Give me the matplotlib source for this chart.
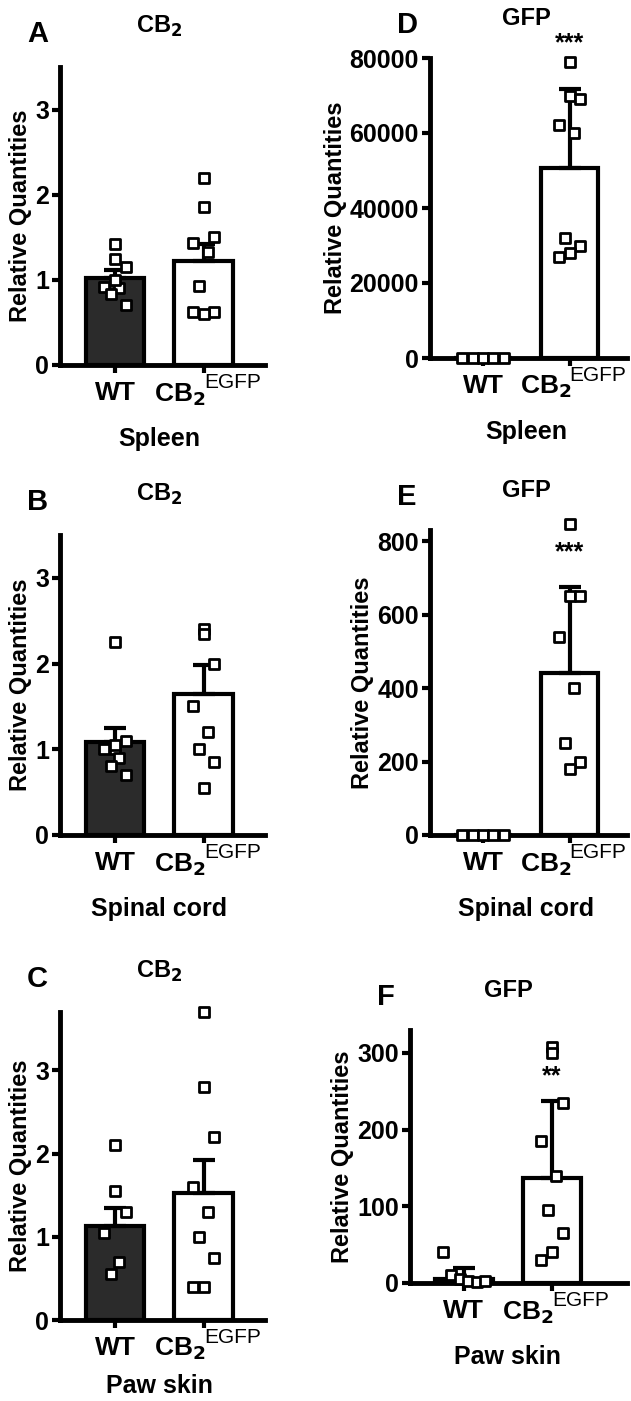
import numpy as np
import matplotlib
matplotlib.use("Agg")
import matplotlib.pyplot as plt

plt.rcParams['font.family'] = 'Liberation Sans'
plt.rcParams['font.weight'] = 'bold'

groups = ["WT", "CB2EGFP"]
A_wt = [1.42, 1.25, 1.15, 0.92, 0.90, 0.83, 0.70, 1.00]
A_ko = [2.20, 1.85, 1.50, 1.43, 1.33, 0.93, 0.62, 0.60, 0.62]
A_mean = [1.02, 1.22]; A_err = [0.09, 0.20]
B_wt = [2.25, 1.00, 1.10, 1.00, 0.90, 0.80, 0.70, 1.05]
B_ko = [2.40, 2.35, 2.00, 1.50, 1.20, 1.00, 0.85, 0.55]
B_mean = [1.08, 1.65]; B_err = [0.17, 0.33]
C_wt = [2.10, 1.55, 1.30, 1.05, 0.70, 0.55]
C_ko = [3.70, 2.80, 2.20, 1.60, 1.30, 1.00, 0.75, 0.40, 0.40]
C_mean = [1.13, 1.53]; C_err = [0.22, 0.39]
D_wt = [0, 0, 0, 0, 0]
D_ko = [79000, 70000, 69000, 62000, 60000, 32000, 30000, 28000, 27000]
D_mean = [0, 50600]; D_err = [0, 21200]
E_wt = [0, 0, 0, 0, 0]
E_ko = [845, 650, 650, 540, 400, 250, 200, 180]
E_mean = [0, 440]; E_err = [0, 235]
F_wt = [40, 10, 5, 2, 1, 3]
F_ko = [308, 300, 235, 185, 140, 95, 65, 40, 30]
F_mean = [5, 137]; F_err = [15, 100]

W, H = 631, 1401
fig = plt.figure(figsize=(W/100, H/100), dpi=100)

def jitter(n):
    offs = [0, 0.0, 0.12, -0.12, 0.05, -0.05, 0.12, 0.0, -0.12]
    return np.array(offs[:n])

def jitter_flat(n):
    return np.linspace(-0.24, 0.24, n)

def panel(x0, x1, ytop, ybot, xlim, ylim, yticks, ticklabels, wt, ko, mean, err,
          letter, title, tissue, stars=None, star_y=None, flat_wt=False, tis_off=62):
    h = ybot - ytop
    ax = fig.add_axes([x0/W, 1-ybot/H, (x1-x0)/W, h/H])
    ax.bar([0], [mean[0]], width=0.66, color='#2b2b2b', edgecolor='black', linewidth=3, zorder=1)
    ax.bar([1], [mean[1]], width=0.66, color='white', edgecolor='black', linewidth=3, zorder=1)
    for i in range(2):
        ax.errorbar([i], [mean[i]], yerr=[[0], [err[i]]], color='black', capsize=8,
                    elinewidth=3, capthick=3, zorder=2)
    for i, d in enumerate([wt, ko]):
        xs = jitter_flat(len(d)) if (i == 0 and flat_wt) else jitter(len(d))
        ax.scatter(i + xs, d, marker='s', s=45, facecolor='white',
                   edgecolor='black', linewidth=2, zorder=3, clip_on=False)
    ax.set_xlim(*xlim); ax.set_ylim(*ylim)
    ax.set_yticks(yticks); ax.set_yticklabels(ticklabels, fontsize=18, fontweight='bold')
    ax.set_xticks([0, 1]); ax.set_xticklabels([])
    for s in ['top', 'right']:
        ax.spines[s].set_visible(False)
    for s in ['left', 'bottom']:
        ax.spines[s].set_linewidth(3.5)
    ax.tick_params(width=3, length=6, pad=2)
    ax.set_ylabel("Relative Quantities", fontsize=17, fontweight='bold', labelpad=2)
    ax.text(0, -16/h, "WT", transform=ax.get_xaxis_transform(), ha='center', va='top',
            fontsize=19, fontweight='bold')
    ax.text(1.02, -16/h, r"CB$_\mathbf{2}$", transform=ax.get_xaxis_transform(), ha='right', va='top',
            fontsize=19, fontweight='bold')
    ax.text(1.0, -8/h, "EGFP", transform=ax.get_xaxis_transform(), ha='left', va='top',
            fontsize=15, fontweight='normal')
    ax.text(0.5, -tis_off/h, tissue, transform=ax.get_xaxis_transform(), ha='center', va='top',
            fontsize=18, fontweight='bold')
    ax.text(0.5, 1 + 28/h, title, transform=ax.get_xaxis_transform(), ha='center', va='bottom',
            fontsize=17, fontweight='bold')
    fig.text((x0-33)/W, 1-(ytop-33)/H, letter, fontsize=21, fontweight='bold', ha='left', va='center')
    if stars:
        ax.text(1, star_y, stars, ha='center', va='center', fontsize=18, fontweight='bold')
    return ax

panel(60, 265, 67, 365, (-0.62, 1.69), (0, 3.5), [0, 1, 2, 3], ['0', '1', '2', '3'],
      A_wt, A_ko, A_mean, A_err, 'A', r"CB$_\mathbf{2}$", 'Spleen')
panel(60, 265, 535, 835, (-0.62, 1.69), (0, 3.5), [0, 1, 2, 3], ['0', '1', '2', '3'],
      B_wt, B_ko, B_mean, B_err, 'B', r"CB$_\mathbf{2}$", 'Spinal cord')
panel(60, 265, 1012, 1320, (-0.62, 1.69), (0, 3.7), [0, 1, 2, 3], ['0', '1', '2', '3'],
      C_wt, C_ko, C_mean, C_err, 'C', r"CB$_\mathbf{2}$", 'Paw skin', tis_off=54)
panel(430, 627, 58, 358, (-0.61, 1.66), (0, 80000), [0, 20000, 40000, 60000, 80000],
      ['0', '20000', '40000', '60000', '80000'],
      D_wt, D_ko, D_mean, D_err, 'D', 'GFP', 'Spleen', '***', 84000, flat_wt=True)
panel(430, 627, 530, 835, (-0.61, 1.66), (0, 830), [0, 200, 400, 600, 800],
      ['0', '200', '400', '600', '800'],
      E_wt, E_ko, E_mean, E_err, 'E', 'GFP', 'Spinal cord', '***', 770, flat_wt=True)
panel(410, 627, 1030, 1283, (-0.61, 1.85), (0, 330), [0, 100, 200, 300],
      ['0', '100', '200', '300'],
      F_wt, F_ko, F_mean, F_err, 'F', 'GFP', 'Paw skin', '**', 270, flat_wt=True)

fig.savefig("out.png", dpi=100)
